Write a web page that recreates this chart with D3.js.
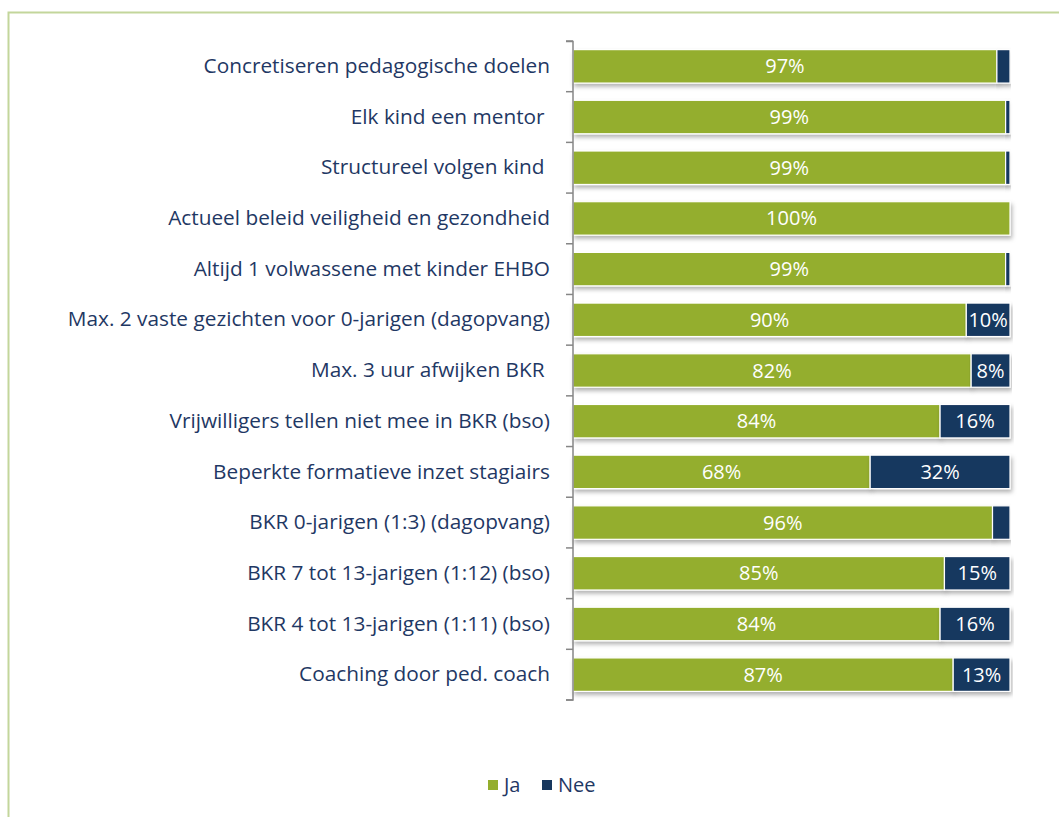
<!DOCTYPE html>
<html><head><meta charset="utf-8">
<script src="https://cdn.jsdelivr.net/npm/d3@7"></script>
<style>
html,body{margin:0;padding:0;background:#fff;}
text{font-family:"Open Sans","Noto Sans",sans-serif;white-space:pre;}
</style></head>
<body><svg id="c" width="1059" height="817"></svg>
<script>
const categories = [
  "Concretiseren pedagogische doelen",
  "Elk kind een mentor ",
  "Structureel volgen kind ",
  "Actueel beleid veiligheid en gezondheid",
  "Altijd 1 volwassene met kinder EHBO",
  "Max. 2 vaste gezichten voor 0-jarigen (dagopvang)",
  "Max. 3 uur afwijken BKR ",
  "Vrijwilligers tellen niet mee in BKR (bso)",
  "Beperkte formatieve inzet stagiairs",
  "BKR 0-jarigen (1:3) (dagopvang)",
  "BKR 7 tot 13-jarigen (1:12) (bso)",
  "BKR 4 tot 13-jarigen (1:11) (bso)",
  "Coaching door ped. coach"
];
const ja  = [97, 99, 99, 100, 99, 90, 82, 84, 68, 96, 85, 84, 87];
const nee = [3, 1, 1, 0, 1, 10, 8, 16, 32, 4, 15, 16, 13];
const seriesNames = ["Ja", "Nee"];
const colors = ["#94AE2D", "#17375E"];

const svg = d3.select("#c");
svg.append("path").attr("d","M8.5,1059 L8.5,12.5 L1059,12.5")
  .attr("fill","none").attr("stroke","#c3d69b").attr("stroke-width",2);

const defs = svg.append("defs");
const f = defs.append("filter").attr("id","sh").attr("x","-5%").attr("y","-30%").attr("width","110%").attr("height","170%");
f.append("feDropShadow").attr("dx",1.5).attr("dy",3).attr("stdDeviation",2).attr("flood-color","#000").attr("flood-opacity",0.3);

const x = d3.scaleLinear().domain([0,1]).range([573,1010]);
const y = d3.scaleBand().domain(categories).range([41,700]).paddingInner(0.34).paddingOuter(0.17);

const rows = categories.map((c,i)=>({cat:c, ja:ja[i], nee:nee[i], tot:ja[i]+nee[i]}));
const stack = d3.stack().keys(["ja","nee"]).value((d,k)=>d[k]/d.tot)(rows);

const g = svg.append("g");
stack.forEach((layer,li)=>{
  g.selectAll(null).data(layer).enter().append("rect")
    .filter(d=>d[1]-d[0]>0)
    .attr("x",d=>x(d[0])).attr("width",d=>x(d[1])-x(d[0]))
    .attr("y",d=>y(d.data.cat)).attr("height",y.bandwidth())
    .attr("fill",colors[li]).attr("stroke","#fff").attr("stroke-width",1.2)
    .attr("filter","url(#sh)");
});
stack.forEach((layer,li)=>{
  const key = li===0?"ja":"nee";
  g.selectAll(null).data(layer).enter().append("text")
    .filter(d=>d.data[key]>=5)
    .attr("x",d=>(x(d[0])+x(d[1]))/2).attr("y",d=>y(d.data.cat)+y.bandwidth()/2)
    .attr("dy","0.35em").attr("text-anchor","middle")
    .attr("fill","#fff").attr("font-size",20)
    .text(d=>d.data[key]+"%");
});

const yb = d3.scaleBand().domain(categories).range([41,700]);
const ax = svg.append("g").attr("transform","translate(573,0)")
  .call(d3.axisLeft(yb).tickSize(0).tickPadding(23));
ax.select(".domain").attr("stroke","#868686").attr("stroke-width",1.5)
  .attr("d","M-7,41.5H0V700H-7");
ax.selectAll(".tick text").attr("font-size",20.8).attr("fill","#1F3864")
  .attr("font-family","'Open Sans','Noto Sans',sans-serif");
const tickY = [...categories.map(c=>yb(c)), 700];
svg.append("g").selectAll("line").data(tickY).enter().append("line")
  .attr("x1",566).attr("x2",573).attr("y1",d=>d).attr("y2",d=>d)
  .attr("stroke","#868686").attr("stroke-width",1.5);

const lg = svg.append("g");
const lx = [488, 542];
seriesNames.forEach((n,i)=>{
  lg.append("rect").attr("x",lx[i]).attr("y",780).attr("width",10).attr("height",10).attr("fill",colors[i]);
  lg.append("text").attr("x",lx[i]+16).attr("y",785).attr("dy","0.35em")
    .attr("font-size",20).attr("fill","#1F3864").text(n);
});
</script></body></html>
